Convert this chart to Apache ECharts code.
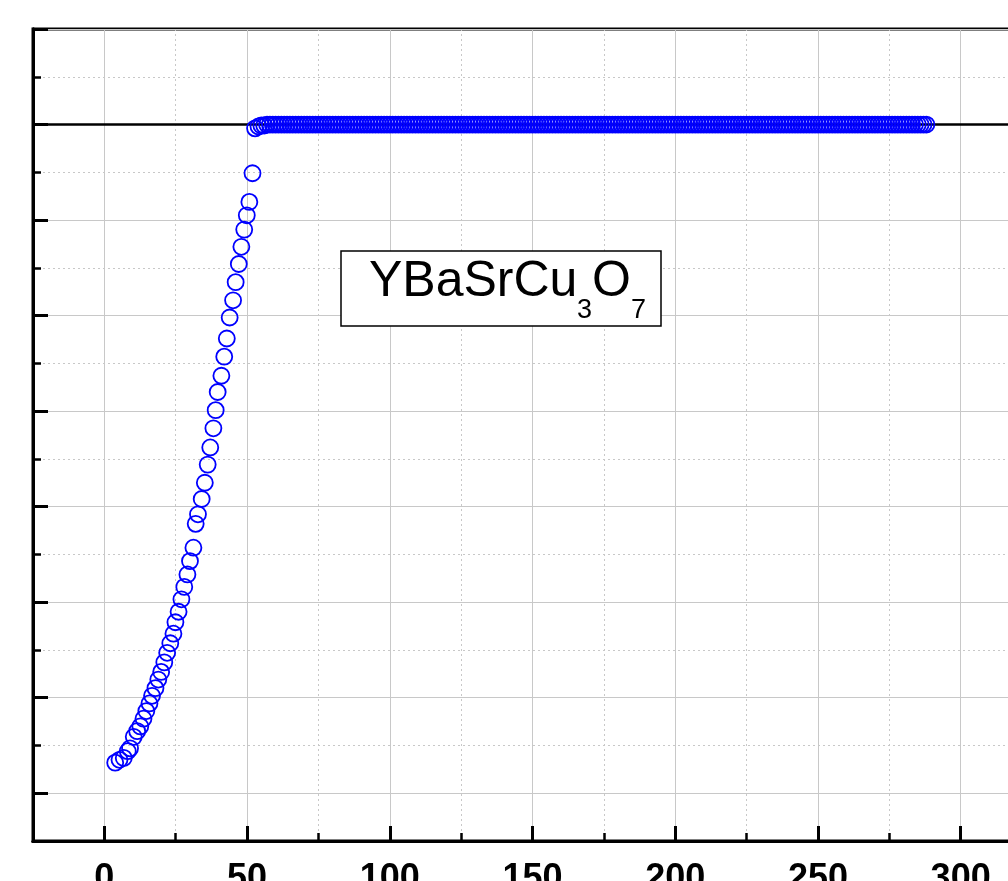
<!DOCTYPE html>
<html>
<head>
<meta charset="utf-8">
<script src="https://cdn.jsdelivr.net/npm/echarts@6/dist/echarts.min.js"></script>
<style>
  html, body { margin: 0; padding: 0; background: #fff; }
  #main { width: 1008px; height: 881px; }
</style>
</head>
<body>
<div id="main"></div>
<script>
// transition part of the curve (temperature, signal)
const transitionT = [3.8, 5.3, 6.8, 8.2, 9.0, 10.3, 11.5, 12.6, 13.7, 14.7,
  15.8, 16.7, 17.9, 18.9, 19.9, 21.0, 22.0, 23.1, 24.2, 24.9,
  26.0, 27.0, 28.0, 29.1, 30.0, 31.2, 32.0, 32.8, 34.1, 35.2,
  36.2, 37.1, 38.2, 39.0, 39.7, 41.0, 42.0, 42.9, 43.9, 45.1,
  46.0, 47.1, 48.0, 49.0, 49.9, 50.8, 51.9, 52.8]
const transitionY = [-0.668, -0.665, -0.663, -0.656, -0.653, -0.641, -0.635, -0.630, -0.622, -0.614,
  -0.606, -0.598, -0.590, -0.581, -0.573, -0.563, -0.553, -0.543, -0.533, -0.521,
  -0.510, -0.497, -0.484, -0.471, -0.457, -0.443, -0.418, -0.408, -0.392, -0.375,
  -0.356, -0.338, -0.318, -0.299, -0.280, -0.263, -0.243, -0.224, -0.202, -0.184,
  -0.165, -0.146, -0.128, -0.110, -0.095, -0.081, -0.051, -0.004]

// normal state plateau
const plateauT = [
  54, 55, 56, 57, 58, 59, 60, 61, 62, 63, 64, 65, 66, 67, 68, 69, 70, 71, 72, 73,
  74, 75, 76, 77, 78, 79, 80, 81, 82, 83, 84, 85, 86, 87, 88, 89, 90, 91, 92, 93,
  94, 95, 96, 97, 98, 99, 100, 101, 102, 103, 104, 105, 106, 107, 108, 109, 110, 111, 112, 113,
  114, 115, 116, 117, 118, 119, 120, 121, 122, 123, 124, 125, 126, 127, 128, 129, 130, 131, 132, 133,
  134, 135, 136, 137, 138, 139, 140, 141, 142, 143, 144, 145, 146, 147, 148, 149, 150, 151, 152, 153,
  154, 155, 156, 157, 158, 159, 160, 161, 162, 163, 164, 165, 166, 167, 168, 169, 170, 171, 172, 173,
  174, 175, 176, 177, 178, 179, 180, 181, 182, 183, 184, 185, 186, 187, 188, 189, 190, 191, 192, 193,
  194, 195, 196, 197, 198, 199, 200, 201, 202, 203, 204, 205, 206, 207, 208, 209, 210, 211, 212, 213,
  214, 215, 216, 217, 218, 219, 220, 221, 222, 223, 224, 225, 226, 227, 228, 229, 230, 231, 232, 233,
  234, 235, 236, 237, 238, 239, 240, 241, 242, 243, 244, 245, 246, 247, 248, 249, 250, 251, 252, 253,
  254, 255, 256, 257, 258, 259, 260, 261, 262, 263, 264, 265, 266, 267, 268, 269, 270, 271, 272, 273,
  274, 275, 276, 277, 278, 279, 280, 281, 282, 283, 284, 285, 286, 287, 288]
const plateauY = [
  -0.002, -0.001, -0.001, 0, 0, 0, 0, 0, 0, 0, 0, 0, 0, 0, 0, 0, 0, 0, 0, 0,
  0, 0, 0, 0, 0, 0, 0, 0, 0, 0, 0, 0, 0, 0, 0, 0, 0, 0, 0, 0,
  0, 0, 0, 0, 0, 0, 0, 0, 0, 0, 0, 0, 0, 0, 0, 0, 0, 0, 0, 0,
  0, 0, 0, 0, 0, 0, 0, 0, 0, 0, 0, 0, 0, 0, 0, 0, 0, 0, 0, 0,
  0, 0, 0, 0, 0, 0, 0, 0, 0, 0, 0, 0, 0, 0, 0, 0, 0, 0, 0, 0,
  0, 0, 0, 0, 0, 0, 0, 0, 0, 0, 0, 0, 0, 0, 0, 0, 0, 0, 0, 0,
  0, 0, 0, 0, 0, 0, 0, 0, 0, 0, 0, 0, 0, 0, 0, 0, 0, 0, 0, 0,
  0, 0, 0, 0, 0, 0, 0, 0, 0, 0, 0, 0, 0, 0, 0, 0, 0, 0, 0, 0,
  0, 0, 0, 0, 0, 0, 0, 0, 0, 0, 0, 0, 0, 0, 0, 0, 0, 0, 0, 0,
  0, 0, 0, 0, 0, 0, 0, 0, 0, 0, 0, 0, 0, 0, 0, 0, 0, 0, 0, 0,
  0, 0, 0, 0, 0, 0, 0, 0, 0, 0, 0, 0, 0, 0, 0, 0, 0, 0, 0, 0,
  0, 0, 0, 0, 0, 0, 0, 0, 0, 0, 0, 0, 0, 0, 0]

const xMajorTicks = [0, 50, 100, 150, 200, 250, 300]
const yMajorTicks = [-0.7, -0.6, -0.5, -0.4, -0.3, -0.2, -0.1, 0, 0.1]

const X_MIN = -25, X_MAX = 325
const Y_MIN = -0.75, Y_MAX = 0.1

const points = transitionT.map((t, i) => [t, transitionY[i]])
  .concat(plateauT.map((t, i) => [t, plateauY[i]]))

const chart = echarts.init(document.getElementById('main'), null, { renderer: 'canvas' })

const gridGray = '#c8c8c8'
const fontFam = '"Liberation Sans", Arial, sans-serif'

chart.setOption({
  backgroundColor: '#fff',
  animation: false,
  grid: {
    left: 33, right: -24, top: 29, bottom: 40,
    outerBoundsMode: 'none',
    containLabel: false,
    show: true,
    borderColor: '#000',
    borderWidth: 3,
    backgroundColor: 'transparent'
  },
  xAxis: [
    // minor ticks + dotted grid
    {
      type: 'value', min: X_MIN, max: X_MAX, interval: 25, position: 'bottom',
      axisLine: { show: true, onZero: false, lineStyle: { color: '#000', width: 3 } },
      axisTick: { show: true, inside: true, length: 8, lineStyle: { color: '#000', width: 2.5 } },
      axisLabel: { show: false },
      splitLine: { show: true, lineStyle: { color: gridGray, width: 1, type: [2, 3] } }
    },
    // major ticks, labels + solid grid
    {
      type: 'value', min: X_MIN, max: X_MAX, position: 'bottom',
      axisLine: { show: true, onZero: false, lineStyle: { color: '#000', width: 3 } },
      axisTick: { show: true, inside: true, length: 15, customValues: xMajorTicks, lineStyle: { color: '#000', width: 3 } },
      axisLabel: {
        show: true, customValues: xMajorTicks, margin: 20,
        color: '#000', fontSize: 36, fontWeight: 'bold', fontFamily: fontFam
      },
      splitLine: { show: true, lineStyle: { color: gridGray, width: 1, type: 'solid' } }
    }
  ],
  yAxis: [
    {
      type: 'value', min: Y_MIN, max: Y_MAX, interval: 0.05, position: 'left',
      axisLine: { show: true, onZero: false, lineStyle: { color: '#000', width: 3 } },
      axisTick: { show: true, inside: true, length: 8, lineStyle: { color: '#000', width: 2.5 } },
      axisLabel: { show: false },
      splitLine: { show: true, lineStyle: { color: gridGray, width: 1, type: [2, 3] } }
    },
    {
      type: 'value', min: Y_MIN, max: Y_MAX, position: 'left',
      axisLine: { show: true, onZero: false, lineStyle: { color: '#000', width: 3 } },
      axisTick: { show: true, inside: true, length: 15, customValues: yMajorTicks, lineStyle: { color: '#000', width: 3 } },
      axisLabel: { show: false },
      splitLine: { show: true, lineStyle: { color: gridGray, width: 1, type: 'solid' } }
    }
  ],
  series: [{
    type: 'scatter',
    xAxisIndex: 0,
    yAxisIndex: 0,
    data: points,
    symbol: 'circle',
    symbolSize: 16,
    itemStyle: { color: 'rgba(0,0,0,0)', borderColor: '#0000ff', borderWidth: 1.8, opacity: 1 },
    markLine: {
      silent: true,
      symbol: ['none', 'none'],
      label: { show: false },
      lineStyle: { color: '#000', width: 2.5, type: 'solid', opacity: 1 },
      data: [{ yAxis: 0 }]
    },
    z: 5
  }],
  graphic: [
    {
      type: 'rect', z: 100,
      shape: { x: 341, y: 251, width: 320, height: 75 },
      style: { fill: '#fff', stroke: '#000', lineWidth: 1.5 }
    },
    {
      type: 'text', z: 101, x: 369, y: 282,
      style: { text: 'YBaSrCu', font: '50px ' + fontFam, fill: '#000', align: 'left', verticalAlign: 'middle' }
    },
    {
      type: 'text', z: 101, x: 577, y: 311,
      style: { text: '3', font: '27px ' + fontFam, fill: '#000', align: 'left', verticalAlign: 'middle' }
    },
    {
      type: 'text', z: 101, x: 592, y: 282,
      style: { text: 'O', font: '50px ' + fontFam, fill: '#000', align: 'left', verticalAlign: 'middle' }
    },
    {
      type: 'text', z: 101, x: 631, y: 311,
      style: { text: '7', font: '27px ' + fontFam, fill: '#000', align: 'left', verticalAlign: 'middle' }
    }
  ]
})
</script>
</body>
</html>
